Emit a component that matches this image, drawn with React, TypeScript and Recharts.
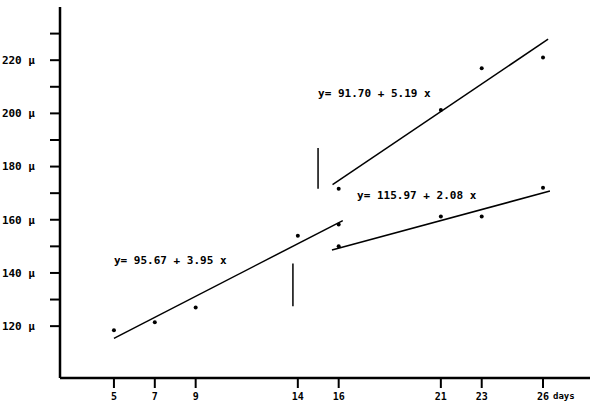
import React from "react";
import {
  ComposedChart,
  XAxis,
  YAxis,
  Scatter,
  Line,
  ReferenceDot,
} from "recharts";

// measured points (days, length in µ)
const days1 = [5, 7, 9, 14, 16];
const len1 = [118.5, 121.5, 127, 154, 158.2];
const days2 = [16, 21, 23, 26];
const lenUpper = [171.7, 201.3, 217, 221];
const lenLower = [150, 161.2, 161.2, 172];

// regression line ends
const fit1X = [5, 16.2];
const fit1Y = [115.4, 159.7];
const fit2X = [15.7, 26.25];
const fit2Y = [173.2, 227.9];
const fit3X = [15.67, 26.34];
const fit3Y = [148.6, 170.8];

// the two little vertical marks
const mark1X = [13.76, 13.76];
const mark1Y = [127.5, 143.6];
const mark2X = [14.99, 14.99];
const mark2Y = [171.7, 187];

const xTicks = [5, 7, 9, 14, 16, 21, 23, 26];
const yTicks = [120, 130, 140, 150, 160, 170, 180, 190, 200, 210, 220, 230];

const eq1 = "y= 95.67 + 3.95 x";
const eq2 = "y= 91.70 + 5.19 x";
const eq3 = "y= 115.97 + 2.08 x";

const zip = (xs: number[], ys: number[]) => xs.map((x, i) => ({ x, y: ys[i] }));

const FONT = "'DejaVu Sans Mono', monospace";

const dot = (props: any) => (
  <circle cx={props.cx} cy={props.cy} r={2} fill="#000" />
);

const XTick = (props: any) => {
  const { x, y, payload } = props;
  return (
    <g>
      <text x={x} y={y + 10} textAnchor="middle" fontSize={10} fontFamily={FONT} fontWeight="bold" fill="#000">
        {payload.value}
      </text>
      {payload.value === 26 && (
        <text x={x + 10} y={y + 9} fontSize={9} fontFamily={FONT} fontWeight="bold" fill="#000">
          days
        </text>
      )}
    </g>
  );
};

const eqLabel = (text: string) => ({
  value: text,
  position: "right" as const,
  offset: 0,
  fontSize: 11,
  fontFamily: FONT,
  fontWeight: "bold",
  fill: "#000",
});

export default function App() {
  return (
    <div style={{ position: "fixed", left: 0, top: 0, width: 600, height: 407, background: "#fff" }}>
      <ComposedChart
        width={600}
        height={407}
        margin={{ top: 7, right: 10, bottom: 0, left: 0 }}
      >
        <XAxis
          type="number"
          dataKey="x"
          domain={[2.36, 28.3]}
          ticks={xTicks}
          interval={0}
          allowDataOverflow
          height={29}
          tickSize={10}
          axisLine={{ stroke: "#000", strokeWidth: 2.5 }}
          tickLine={{ stroke: "#000", strokeWidth: 2 }}
          tick={<XTick />}
        />
        <YAxis
          type="number"
          domain={[100.5, 240]}
          ticks={yTicks}
          interval={0}
          allowDataOverflow
          width={60}
          tickSize={10}
          tickMargin={15}
          axisLine={{ stroke: "#000", strokeWidth: 2.5 }}
          tickLine={{ stroke: "#000", strokeWidth: 2 }}
          tickFormatter={(v: number) => (v % 20 === 0 ? `${v} µ` : "")}
          tick={{ fontSize: 11, fontFamily: FONT, fontWeight: "bold", fill: "#000" }}
        />
        <Line data={zip(fit1X, fit1Y)} dataKey="y" stroke="#000" strokeWidth={1.5} dot={false} isAnimationActive={false} />
        <Line data={zip(fit2X, fit2Y)} dataKey="y" stroke="#000" strokeWidth={1.5} dot={false} isAnimationActive={false} />
        <Line data={zip(fit3X, fit3Y)} dataKey="y" stroke="#000" strokeWidth={1.5} dot={false} isAnimationActive={false} />
        <Line data={zip(mark1X, mark1Y)} dataKey="y" stroke="#000" strokeWidth={1.5} dot={false} isAnimationActive={false} />
        <Line data={zip(mark2X, mark2Y)} dataKey="y" stroke="#000" strokeWidth={1.5} dot={false} isAnimationActive={false} />
        <Scatter data={zip(days1, len1)} dataKey="y" shape={dot} isAnimationActive={false} />
        <Scatter data={zip(days2, lenUpper)} dataKey="y" shape={dot} isAnimationActive={false} />
        <Scatter data={zip(days2, lenLower)} dataKey="y" shape={dot} isAnimationActive={false} />
        <ReferenceDot x={5} y={144.8} r={0} stroke="none" label={eqLabel(eq1)} />
        <ReferenceDot x={14.99} y={207.8} r={0} stroke="none" label={eqLabel(eq2)} />
        <ReferenceDot x={16.9} y={169.2} r={0} stroke="none" label={eqLabel(eq3)} />
      </ComposedChart>
    </div>
  );
}
